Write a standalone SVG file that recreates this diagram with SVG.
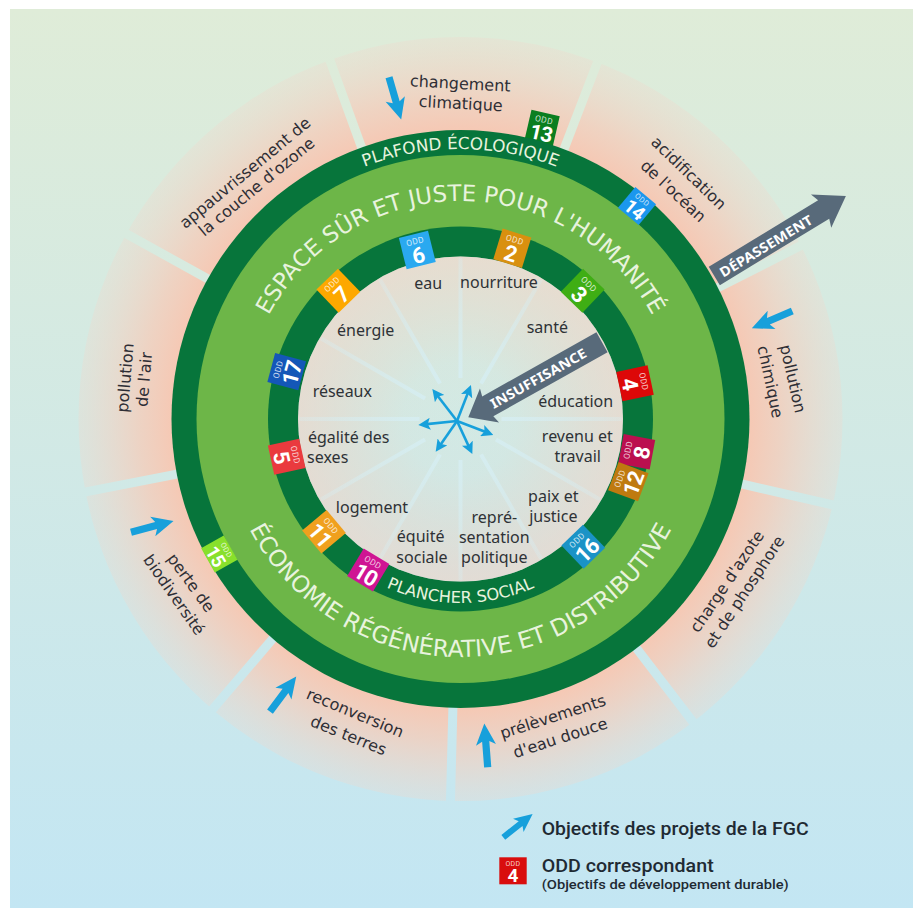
<svg xmlns="http://www.w3.org/2000/svg" xmlns:xlink="http://www.w3.org/1999/xlink" width="921" height="910" viewBox="0 0 921 910">
<style>
.l{font-family:"DejaVu Sans","Liberation Sans",sans-serif;font-size:16px;fill:#2e2e35;text-anchor:middle}
.i{font-family:"Noto Sans","Liberation Sans",sans-serif;font-size:16px;fill:#2e3236;text-anchor:middle}
.c{font-family:"DejaVu Sans","Liberation Sans",sans-serif;fill:#e8f3de;text-anchor:middle}
.arrowtxt{font-family:"Noto Sans","Liberation Sans",sans-serif;font-weight:700;font-size:13.5px;fill:#fff;text-anchor:middle}
.odd{font-family:Roboto,"Liberation Sans",sans-serif;font-size:8.5px;fill:#fff;fill-opacity:.78;text-anchor:middle;letter-spacing:.4px}
.num{font-family:Roboto,"Liberation Sans",sans-serif;font-weight:700;font-size:22px;fill:#fff;text-anchor:middle}
.lg{font-family:Roboto,"Liberation Sans",sans-serif;font-weight:500;fill:#1f2a33}
.blue{fill:#17a0db}
.grey{fill:#586a7a}
.gap{stroke:url(#bg);stroke-width:9;fill:none}
.thin{stroke:#17a0db;stroke-width:2.6;fill:none;marker-end:url(#tip)}
</style>
<defs>
<linearGradient id="bg" gradientUnits="userSpaceOnUse" x1="0" y1="9" x2="0" y2="908">
<stop offset="0" stop-color="#dfecd8"/><stop offset="1" stop-color="#c3e6f3"/>
</linearGradient>
<radialGradient id="petal" gradientUnits="userSpaceOnUse" cx="460.5" cy="419" r="382">
<stop offset=".76" stop-color="#f5c9b5"/><stop offset=".84" stop-color="#f4cdbb" stop-opacity=".8"/><stop offset="1" stop-color="#f0d8cc" stop-opacity=".32"/>
</radialGradient>
<radialGradient id="disk" gradientUnits="userSpaceOnUse" cx="460.5" cy="419" r="163">
<stop offset="0" stop-color="#f5c9b5" stop-opacity="0"/><stop offset=".35" stop-color="#f5c9b5" stop-opacity=".05"/><stop offset="1" stop-color="#f7cfc0" stop-opacity=".5"/>
</radialGradient>
<linearGradient id="sp" x1="0" y1="0" x2="0" y2="1">
<stop offset="0" stop-color="#d6eef3" stop-opacity=".3"/><stop offset="1" stop-color="#d6eef3" stop-opacity=".8"/>
</linearGradient>
<rect id="spoke" x="-2" y="-161" width="4" height="120" fill="url(#sp)"/>
<path id="arrow" d="M0 -3.6H26L22.5 -10L44 0L22.5 10L26 3.6H0Z"/>
<marker id="tip" viewBox="0 0 12 12" refX="6" refY="6" markerWidth="12" markerHeight="12" markerUnits="userSpaceOnUse" orient="auto"><path d="M0 0L12 6L0 12L2.5 6Z" fill="#17a0db"/></marker>
<path id="arcTop" d="M242.5 419A218 218 0 0 1 678.5 419"/>
<path id="arcBot" d="M222.5 419A238 238 0 0 0 698.5 419"/>
<path id="arcPlafond" d="M190.5 419A270 270 0 0 1 730.5 419"/>
<path id="arcPlancher" d="M276.5 419A184 184 0 0 0 644.5 419"/>
</defs>

<rect x="10" y="9" width="903" height="899" fill="url(#bg)"/>
<circle cx="460.5" cy="419" r="382" fill="url(#petal)"/>
<g id="sector-gaps">
<line class="gap" x1="562.6" y1="152.9" x2="601" y2="53"/>
<line class="gap" x1="714.4" y1="289.6" x2="809.8" y2="241"/>
<line class="gap" x1="738.2" y1="483.1" x2="842.5" y2="507.2"/>
<line class="gap" x1="634" y1="645.1" x2="699.1" y2="730"/>
<line class="gap" x1="453" y1="703.9" x2="450.2" y2="810.9"/>
<line class="gap" x1="275.4" y1="635.7" x2="205.9" y2="717.1"/>
<line class="gap" x1="180.7" y1="473.4" x2="75.7" y2="493.8"/>
<line class="gap" x1="211.2" y1="280.8" x2="117.7" y2="229"/>
<line class="gap" x1="363" y1="151.2" x2="326.4" y2="50.6"/>
</g>

<g id="tag-13" transform="translate(542 128.6) rotate(13)"><rect x="-14.5" y="-16" width="29" height="32" fill="#0a7e20"/><text class="odd" y="-6">ODD</text><text class="num" y="12" style="letter-spacing:-1px;font-size:21px">13</text></g>

<g id="rings">
<circle cx="460.5" cy="419" r="289" fill="#07753b"/>
<circle cx="460.5" cy="419" r="264" fill="#6db648"/>
<circle cx="460.5" cy="419" r="192.5" fill="#07753b"/>
<circle cx="460.5" cy="419" r="162.5" fill="url(#bg)"/>
<circle cx="460.5" cy="419" r="162.5" fill="url(#disk)"/>
<use xlink:href="#spoke" href="#spoke" transform="translate(460.5 419)"/>
<use xlink:href="#spoke" href="#spoke" transform="translate(460.5 419) rotate(30)"/>
<use xlink:href="#spoke" href="#spoke" transform="translate(460.5 419) rotate(60)"/>
<use xlink:href="#spoke" href="#spoke" transform="translate(460.5 419) rotate(90)"/>
<use xlink:href="#spoke" href="#spoke" transform="translate(460.5 419) rotate(120)"/>
<use xlink:href="#spoke" href="#spoke" transform="translate(460.5 419) rotate(150)"/>
<use xlink:href="#spoke" href="#spoke" transform="translate(460.5 419) rotate(180)"/>
<use xlink:href="#spoke" href="#spoke" transform="translate(460.5 419) rotate(210)"/>
<use xlink:href="#spoke" href="#spoke" transform="translate(460.5 419) rotate(240)"/>
<use xlink:href="#spoke" href="#spoke" transform="translate(460.5 419) rotate(270)"/>
<use xlink:href="#spoke" href="#spoke" transform="translate(460.5 419) rotate(300)"/>
<use xlink:href="#spoke" href="#spoke" transform="translate(460.5 419) rotate(330)"/>
</g>

<g id="ring-labels">
<text class="c" style="font-size:22.8px"><textPath xlink:href="#arcTop" href="#arcTop" startOffset="50%">ESPACE SÛR ET JUSTE POUR L'HUMANITÉ</textPath></text>
<text class="c" style="font-size:23.4px"><textPath xlink:href="#arcBot" href="#arcBot" startOffset="50%">ÉCONOMIE RÉGÉNÉRATIVE ET DISTRIBUTIVE</textPath></text>
<text class="c" style="font-size:16.8px"><textPath xlink:href="#arcPlafond" href="#arcPlafond" startOffset="50%">PLAFOND ÉCOLOGIQUE</textPath></text>
<text class="c" style="font-size:16.3px"><textPath xlink:href="#arcPlancher" href="#arcPlancher" startOffset="50%">PLANCHER SOCIAL</textPath></text>
</g>

<g id="node-changement-climatique">
<use xlink:href="#arrow" href="#arrow" class="blue" transform="translate(389 77.3) rotate(73.9)"/>
<text class="l" transform="translate(460 89) rotate(3)">changement</text>
<text class="l" transform="translate(460.5 109) rotate(3)">climatique</text>
</g>
<g id="node-ozone">
<text class="l" transform="translate(248.5 177) rotate(-39.5)">appauvrissement de</text>
<text class="l" transform="translate(260 191) rotate(-39.5)">la couche d'ozone</text>
</g>
<g id="node-air">
<text class="l" transform="translate(130.7 378.3) rotate(-85)">pollution</text>
<text class="l" transform="translate(149.7 380) rotate(-85)">de l'air</text>
</g>
<g id="node-biodiversite">
<use xlink:href="#arrow" href="#arrow" class="blue" transform="translate(131 532.3) rotate(-15)"/>
<text class="l" transform="translate(186.5 586) rotate(54)">perte de</text>
<text class="l" transform="translate(169.5 598) rotate(55)">biodiversité</text>
</g>
<g id="node-terres">
<use xlink:href="#arrow" href="#arrow" class="blue" transform="translate(270 711.7) rotate(-53.4)"/>
<text class="l" transform="translate(353 718) rotate(22.5)">reconversion</text>
<text class="l" transform="translate(346.5 740.5) rotate(22)">des terres</text>
</g>
<g id="node-eau-douce">
<use xlink:href="#arrow" href="#arrow" class="blue" transform="translate(487.7 767.3) rotate(-94.4)"/>
<text class="l" transform="translate(554.5 722) rotate(-18)">prélèvements</text>
<text class="l" transform="translate(562 743) rotate(-18)">d'eau douce</text>
</g>
<g id="node-azote">
<text class="l" transform="translate(731.5 584.5) rotate(-56)">charge d'azote</text>
<text class="l" transform="translate(749 595) rotate(-56.5)">et de phosphore</text>
</g>
<g id="node-chimique">
<use xlink:href="#arrow" href="#arrow" class="blue" transform="translate(792.3 311) rotate(156.9)"/>
<text class="l" transform="translate(787.5 380) rotate(77)">pollution</text>
<text class="l" transform="translate(765 383) rotate(78)">chimique</text>
</g>
<g id="node-ocean">
<text class="l" transform="translate(685 177) rotate(44)">acidification</text>
<text class="l" transform="translate(669.5 195) rotate(43)">de l'océan</text>
</g>

<g id="tag-14" transform="translate(637 206) rotate(40)"><rect x="-13.5" y="-13.5" width="27" height="27" fill="#1b97ee"/><text class="odd" y="-5.5" style="font-size:7.5px">ODD</text><text class="num" y="11" style="font-size:19px;letter-spacing:-1px">14</text></g>
<g id="tag-15" transform="translate(219.3 554) rotate(60.7)"><rect x="-14" y="-13" width="28" height="26" fill="#88e02c"/><text class="odd" y="-5.5" style="font-size:7.5px">ODD</text><text class="num" y="11" style="font-size:19px;letter-spacing:-1px">15</text></g>

<g id="node-eau"><text class="i" x="428.3" y="289.3">eau</text></g>
<g id="node-nourriture"><text class="i" x="499" y="288.3">nourriture</text></g>
<g id="node-energie"><text class="i" x="365.7" y="335.7">énergie</text></g>
<g id="node-sante"><text class="i" x="547.3" y="333.3">santé</text></g>
<g id="node-reseaux"><text class="i" x="342.3" y="396.7">réseaux</text></g>
<g id="node-education"><text class="i" x="575.7" y="406.7">éducation</text></g>
<g id="node-egalite"><text class="i" x="348.7" y="442.7">égalité des</text><text class="i" x="327.7" y="463.3">sexes</text></g>
<g id="node-revenu"><text class="i" x="577.3" y="441.7">revenu et</text><text class="i" x="577.7" y="461.7">travail</text></g>
<g id="node-logement"><text class="i" x="372" y="513.3">logement</text></g>
<g id="node-paix"><text class="i" x="553.3" y="501.7">paix et</text><text class="i" x="553.3" y="521.7">justice</text></g>
<g id="node-representation"><text class="i" x="494.3" y="523.3">repré-</text><text class="i" x="494.3" y="543.3">sentation</text><text class="i" x="494.3" y="562.7">politique</text></g>
<g id="node-equite"><text class="i" x="420.7" y="542.3">équité</text><text class="i" x="422" y="562.7">sociale</text></g>

<g id="tag-6" transform="translate(417.3 250) rotate(-14)"><rect x="-15" y="-16" width="30" height="32" fill="#2aa9f0"/><text class="odd" y="-6">ODD</text><text class="num" y="13">6</text></g>
<g id="tag-2" transform="translate(512.3 248.3) rotate(17)"><rect x="-15" y="-16" width="30" height="32" fill="#d9900f"/><text class="odd" y="-6">ODD</text><text class="num" y="13">2</text></g>
<g id="tag-3" transform="translate(582.7 290.7) rotate(44)"><rect x="-15" y="-16" width="30" height="32" fill="#3fae14"/><text class="odd" y="-6">ODD</text><text class="num" y="13">3</text></g>
<g id="tag-4" transform="translate(635 383.3) rotate(78)"><rect x="-15" y="-16" width="30" height="32" fill="#dd0808"/><text class="odd" y="-6">ODD</text><text class="num" y="13">4</text></g>
<g id="tag-8" transform="translate(636.7 451.7) rotate(-79.4)"><rect x="-15" y="-16" width="30" height="32" fill="#bb0f4f"/><text class="odd" y="-6">ODD</text><text class="num" y="13">8</text></g>
<g id="tag-12" transform="translate(628.3 481.7) rotate(-69.5)"><rect x="-15" y="-16" width="30" height="32" fill="#bf7a0f"/><text class="odd" y="-6">ODD</text><text class="num" y="13" style="letter-spacing:-1px">12</text></g>
<g id="tag-16" transform="translate(583.3 546.7) rotate(-44)"><rect x="-15" y="-16" width="30" height="32" fill="#1a93c6"/><text class="odd" y="-6">ODD</text><text class="num" y="13" style="letter-spacing:-1px">16</text></g>
<g id="tag-10" transform="translate(368.3 570) rotate(31)"><rect x="-15" y="-16" width="30" height="32" fill="#cf1493"/><text class="odd" y="-6">ODD</text><text class="num" y="13" style="letter-spacing:-1px">10</text></g>
<g id="tag-11" transform="translate(324 531.7) rotate(50)"><rect x="-15" y="-16" width="30" height="32" fill="#f0a01e"/><text class="odd" y="-6">ODD</text><text class="num" y="13" style="letter-spacing:-1px">11</text></g>
<g id="tag-5" transform="translate(286.7 456.7) rotate(77.7)"><rect x="-15" y="-16" width="30" height="32" fill="#ea3a3e"/><text class="odd" y="-6">ODD</text><text class="num" y="13">5</text></g>
<g id="tag-17" transform="translate(286.7 371.7) rotate(-75)"><rect x="-15" y="-16" width="30" height="32" fill="#1457b8"/><text class="odd" y="-6">ODD</text><text class="num" y="13" style="letter-spacing:-1px">17</text></g>
<g id="tag-7" transform="translate(338.3 290.7) rotate(-44)"><rect x="-15" y="-16" width="30" height="32" fill="#fda800"/><text class="odd" y="-6">ODD</text><text class="num" y="13">7</text></g>

<g id="connectors">
<line class="thin" x1="457" y1="421" x2="468.8" y2="390.6"/>
<line class="thin" x1="457" y1="421" x2="436" y2="393.8"/>
<line class="thin" x1="457" y1="421" x2="424.3" y2="424.4"/>
<line class="thin" x1="457" y1="421" x2="439.1" y2="446.8"/>
<line class="thin" x1="457" y1="421" x2="469.8" y2="448.6"/>
<line class="thin" x1="457" y1="421" x2="487.7" y2="432.8"/>
</g>

<g id="insuffisance">
<path class="grey" transform="translate(602 342.3) rotate(150.7)" d="M0 -11.4H131L129 -19.5L153.3 0L129 19.5L131 11.4H0Z"/>
<text class="arrowtxt" transform="translate(538.3 378.3) rotate(-29.3) translate(0 5)" textLength="108" lengthAdjust="spacingAndGlyphs">INSUFFISANCE</text>
</g>
<g id="depassement">
<path class="grey" transform="translate(714.3 276) rotate(-31.3)" d="M0 -10.7H128L125 -19.5L154 0L125 19.5L128 10.7H0Z"/>
<text class="arrowtxt" transform="translate(766 246) rotate(-31.3) translate(0 5)" textLength="106" lengthAdjust="spacingAndGlyphs">DÉPASSEMENT</text>
</g>

<g id="legend">
<use xlink:href="#arrow" href="#arrow" class="blue" transform="translate(503.3 837.3) rotate(-38.4) scale(.85)"/>
<text class="lg" x="541.7" y="835" font-size="18" textLength="267" lengthAdjust="spacingAndGlyphs">Objectifs des projets de la FGC</text>
<g id="legend-tag"><rect x="499.3" y="857.3" width="27.4" height="27" fill="#d90d0d"/><text class="odd" x="513" y="865.5" style="font-size:7px">ODD</text><text class="num" x="513" y="882" style="font-size:19px">4</text></g>
<text class="lg" x="541.7" y="871.7" font-size="18" textLength="172" lengthAdjust="spacingAndGlyphs">ODD correspondant</text>
<text class="lg" x="541.7" y="889.3" font-size="12" font-weight="700" textLength="247" lengthAdjust="spacingAndGlyphs">(Objectifs de développement durable)</text>
</g>
</svg>
